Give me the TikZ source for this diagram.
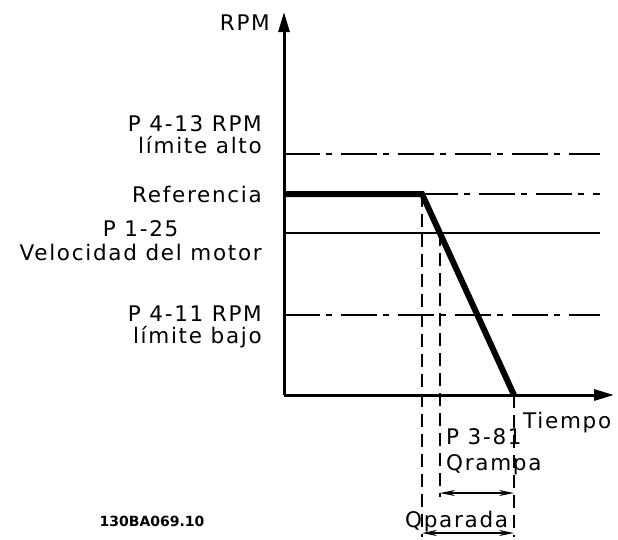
\documentclass[tikz,border=0pt]{standalone}
\usepackage{fontspec}
\setmainfont{DejaVu Sans}
\newfontfamily\lblfont{DejaVu Sans}[LetterSpace=8]
\usetikzlibrary{arrows.meta}
\begin{document}
\begin{tikzpicture}[x=1pt,y=-1pt,
	lbl/.style={ inner sep=0pt, font=\lblfont\fontsize{21.5}{21.5}\selectfont },
	axis/.style={ line width=3pt, -{Triangle[length=20pt,width=11pt]} },
	limline/.style={ line width=2.5pt, dash pattern=on 36pt off 6pt on 6pt off 9pt },
	guide/.style={ line width=2pt, dash pattern=on 13pt off 7pt },
	dim/.style={ line width=1.6pt, {Stealth[length=15pt,width=6pt]}-{Stealth[length=15pt,width=6pt]} }
]
	\useasboundingbox (0,0) rectangle (618,539);
	% axes
	\coordinate (o) at (284,395);
	\coordinate (ytop) at (284,12);
	\coordinate (xend) at (614,395);
	\draw[axis] (o) -- (ytop);
	\draw[axis] (o) -- (xend);
	\node at (270,30) (rpm) [lbl,anchor=base east] {RPM};
	\node at (523,428) (tiempo) [lbl,anchor=base west] {Tiempo};
	% levels
	\coordinate (hiA) at (284,154);
	\coordinate (hiB) at (600,154);
	\coordinate (refA) at (284,194);
	\coordinate (refB) at (600,194);
	\coordinate (motA) at (284,233);
	\coordinate (motB) at (600,233);
	\coordinate (loA) at (284,315);
	\coordinate (loB) at (600,315);
	\draw[limline] (hiA) -- (hiB);
	\draw[line width=2.5pt] (motA) -- (motB);
	\draw[limline] (loA) -- (loB);
	% ramp
	\coordinate (knee) at (422,194);
	\coordinate (cut) at (440,233);
	\coordinate (stop) at (514,395);
	\draw[limline] (knee) -- (refB);
	\draw[line width=6pt] (refA) -- (knee) -- (stop);
	\node at (262,153) (hi) [lbl,anchor=base east,align=right] {P 4-13 RPM\\límite alto};
	\node at (262,202) (ref) [lbl,anchor=base east] {Referencia};
	\node at (262,260) (mot) [lbl,anchor=base east,align=center] {P 1-25\\[2pt]Velocidad del motor};
	\node at (262,343) (lo) [lbl,anchor=base east,align=right] {P 4-11 RPM\\límite bajo};
	% times
	\coordinate (kneeB) at (422,537);
	\coordinate (cutB) at (440,497);
	\coordinate (stopB) at (514,537);
	\draw[guide] (knee) -- (kneeB);
	\draw[guide] (cut) -- (cutB);
	\draw[guide] (stop) -- (stopB);
	\coordinate (rampA) at (440,493);
	\coordinate (rampB) at (514,493);
	\coordinate (paraA) at (422,533);
	\coordinate (paraB) at (514,533);
	\draw[dim] (rampA) -- (rampB);
	\draw[dim] (paraA) -- (paraB);
	\node at (446,470) (qrampa) [lbl,anchor=base west,align=left] {P 3-81\\[4pt]Qrampa};
	\node at (405,527) (qparada) [lbl,anchor=base west] {Qparada};
	\node at (152,526) (code) [inner sep=0pt,anchor=base,font=\bfseries\fontsize{14}{16}\selectfont] {130BA069.10};
\end{tikzpicture}
\end{document}
